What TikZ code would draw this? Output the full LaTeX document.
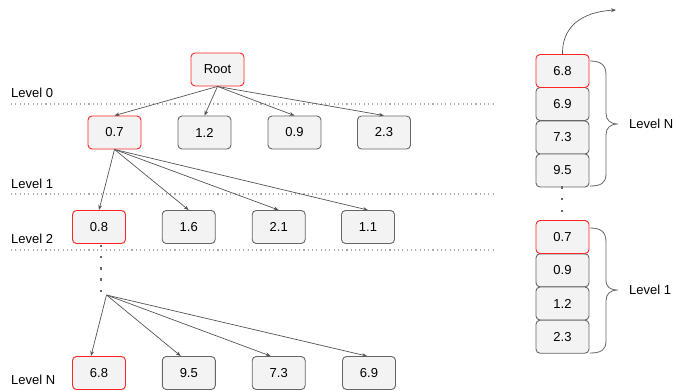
\documentclass[tikz,border=0pt]{standalone}
\usepackage{fontspec}
\setmainfont{Liberation Sans}
\usetikzlibrary{arrows.meta,calc}
\definecolor{boxfill}{HTML}{F3F3F3}
\definecolor{boxline}{HTML}{666666}
\definecolor{hilite}{HTML}{FF2626}
\definecolor{arrowc}{HTML}{555555}
\definecolor{levelline}{HTML}{ABABAB}
\tikzset{
  key/.style={draw=boxline, fill=boxfill, line width=0.9pt, rounded corners=4pt,
    minimum width=53pt, minimum height=33pt, inner sep=0pt, font=\fontsize{13pt}{15pt}\selectfont},
  hot/.style={key, draw=hilite},
  link/.style={draw=arrowc, line width=0.7pt, -{Stealth[length=5pt,width=3.8pt]}},
  levelsep/.style={draw=levelline, line width=1.1pt, dash pattern=on 1.1pt off 3.2pt},
  lvl/.style={anchor=west, inner sep=0pt, font=\fontsize{13pt}{15pt}\selectfont},
  gap/.style={fill=boxline, minimum size=2.4pt, inner sep=0pt},
  brace/.style={draw=boxline, line width=0.8pt},
}
\begin{document}
\begin{tikzpicture}[x=1pt,y=-1pt]
\useasboundingbox (0,0) rectangle (673,391);

% level separators
\draw[levelsep] (11,104) -- (495,104);
\draw[levelsep] (11,194) -- (495,194);
\draw[levelsep] (11,250) -- (495,250);

% level labels
\node[lvl] (l0) at (11,93) {Level 0};
\node[lvl] (l1) at (11,184) {Level 1};
\node[lvl] (l2) at (11,239) {Level 2};
\node[lvl] (ln) at (11,380) {Level N};

% tree
\node[hot] (root) at (217.5,69.5) {Root};

\node[hot] (a07) at (114.5,132.5) {0.7};
\node[key] (a12) at (204.5,132.5) {1.2};
\node[key] (a09) at (294.5,132.5) {0.9};
\node[key] (a23) at (384,132.5) {2.3};

\node[hot] (b08) at (99,227) {0.8};
\node[key] (b16) at (188.7,227) {1.6};
\node[key] (b21) at (278.7,227) {2.1};
\node[key] (b11) at (368,227) {1.1};

\node[hot] (c68) at (99,373) {6.8};
\node[key] (c95) at (188.8,373) {9.5};
\node[key] (c73) at (278.7,373) {7.3};
\node[key] (c69) at (369,373) {6.9};

\foreach \n in {a07,a12,a09,a23} \draw[link] (root.south) -- (\n.north);
\foreach \n in {b08,b16,b21,b11} \draw[link] (a07.south) -- (\n.north);

% elided levels
\foreach \y/\i in {245.7/1,256.7/2,268.3/3,279.3/4,290.7/5} \node[gap] (gl\i) at (101,\y) {};
\coordinate (fan) at (106.5,295);
\draw[link] (fan) -- ($(c68.north)+(-8,0)$);
\draw[link] (fan) -- ($(c95.north)+(-8,0)$);
\draw[link] (fan) -- ($(c73.north)+(-8,0)$);
\draw[link] (fan) -- ($(c69.north)+(-2,0)$);

% sorted run, level N
\node[key] (s69) at (562.5,104) {6.9};
\node[key] (s73) at (562.5,137.5) {7.3};
\node[key] (s95) at (562.5,170.5) {9.5};
\node[hot] (s68) at (562.5,71) {6.8};

% sorted run, level 1
\node[key] (t09) at (562.5,270.3) {0.9};
\node[key] (t12) at (562.5,303.5) {1.2};
\node[key] (t23) at (562.5,336.7) {2.3};
\node[hot] (t07) at (562.5,237) {0.7};

\foreach \y/\i in {187.3/1,199/2,210.7/3} \node[gap] (gr\i) at (562,\y) {};

% output arrow
\coordinate (out) at (616,10);
\draw[link] (s68.north) .. controls (562,28) and (580,12) .. (out);

% braces
\draw[brace] (590,61) .. controls (601,61) and (606,65) .. (606,75) -- (606,113)
  .. controls (606,120) and (610,124) .. (618,124)
  .. controls (610,124) and (606,128) .. (606,135) -- (606,174)
  .. controls (606,183) and (601,186) .. (590,186);
\node[lvl] (rn) at (629,124) {Level N};

\draw[brace] (590,228) .. controls (601,228) and (606,232) .. (606,242) -- (606,280)
  .. controls (606,287) and (610,290) .. (618,290)
  .. controls (610,290) and (606,294) .. (606,301) -- (606,341)
  .. controls (606,350) and (601,353) .. (590,353);
\node[lvl] (r1) at (629,290) {Level 1};
\end{tikzpicture}
\end{document}
